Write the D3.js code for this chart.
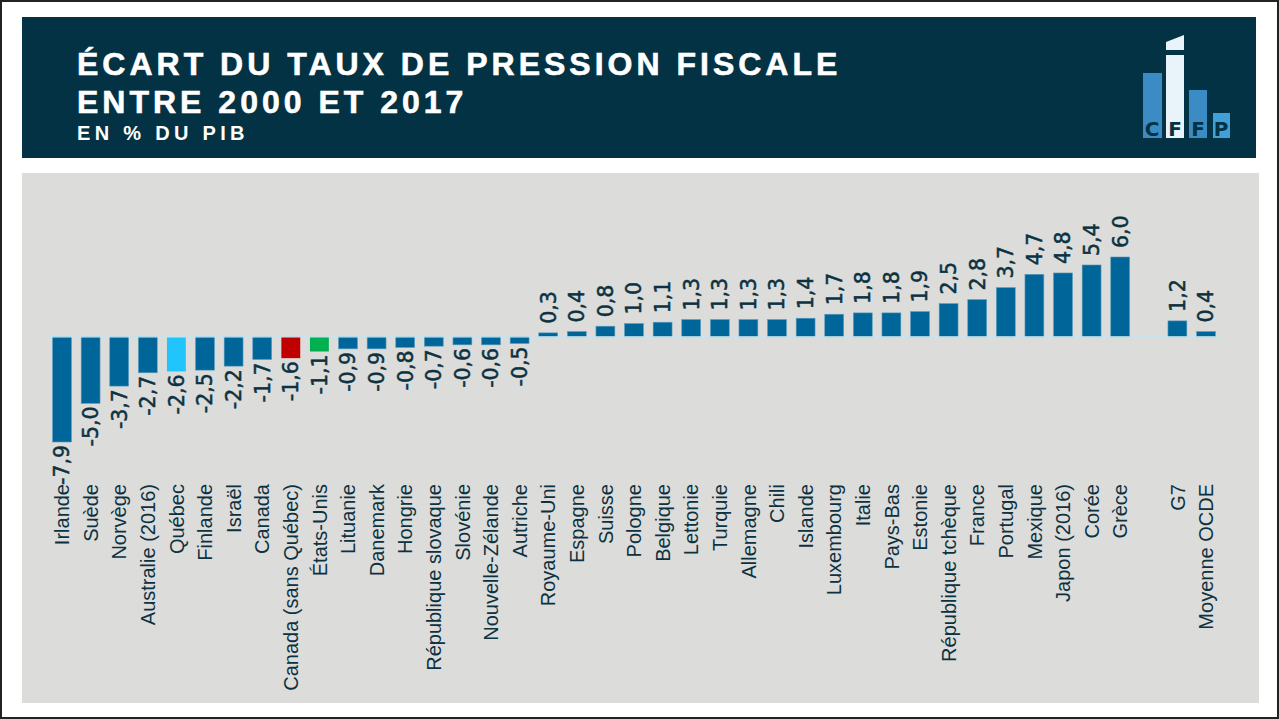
<!DOCTYPE html>
<html>
<head>
<meta charset="utf-8">
<script src="https://cdn.jsdelivr.net/npm/d3@7"></script>
<style>
    body { margin: 0; background: #fff; }
    svg { display: block; }
</style>
</head>
<body>
<div id="chart"></div>
<script>
// pays, dans l'ordre du graphique ("" = espace vide avant G7)
var countries = ["Irlande", "Suède", "Norvège", "Australie (2016)", "Québec", "Finlande", "Israël",
    "Canada", "Canada (sans Québec)", "États-Unis", "Lituanie", "Danemark", "Hongrie",
    "République slovaque", "Slovénie", "Nouvelle-Zélande", "Autriche", "Royaume-Uni", "Espagne",
    "Suisse", "Pologne", "Belgique", "Lettonie", "Turquie", "Allemagne", "Chili", "Islande",
    "Luxembourg", "Italie", "Pays-Bas", "Estonie", "République tchèque", "France", "Portugal",
    "Mexique", "Japon (2016)", "Corée", "Grèce", "", "G7", "Moyenne OCDE"];

// écart en points de % du PIB (null = pas de barre)
var values = [-7.9, -5.0, -3.7, -2.7, -2.6, -2.5, -2.2, -1.7, -1.6, -1.1, -0.9, -0.9, -0.8,
    -0.7, -0.6, -0.6, -0.5, 0.3, 0.4, 0.8, 1.0, 1.1, 1.3, 1.3, 1.3, 1.3, 1.4, 1.7, 1.8, 1.8,
    1.9, 2.5, 2.8, 3.7, 4.7, 4.8, 5.4, 6.0, null, 1.2, 0.4];

var highlight = {
    "Québec": "#22c5fb",
    "Canada (sans Québec)": "#c00000",
    "États-Unis": "#00b050"
};

var titleLines = ["ÉCART DU TAUX DE PRESSION FISCALE", "ENTRE 2000 ET 2017"];
var subtitle = "EN % DU PIB";

var width = 1279, height = 719;
var dark = "#023243", textCol = "#0c3242", barCol = "#006699";

var svg = d3.select("#chart").append("svg")
    .attr("width", width)
    .attr("height", height);

// cadre extérieur
svg.append("rect")
    .attr("x", 1).attr("y", 1)
    .attr("width", width - 2).attr("height", height - 2)
    .attr("fill", "#fff")
    .attr("stroke", "#222")
    .attr("stroke-width", 2);

// bandeau du titre
svg.append("rect")
    .attr("x", 22).attr("y", 17)
    .attr("width", 1234).attr("height", 141)
    .attr("fill", dark);

svg.selectAll(".title")
    .data(titleLines)
    .enter()
    .append("text")
    .attr("class", "title")
    .attr("x", 77)
    .attr("y", function (d, i) { return 75 + i * 38; })
    .style("font-family", "'Liberation Sans', Arial, sans-serif")
    .style("font-weight", "bold")
    .style("font-size", "32px")
    .style("letter-spacing", "4px")
    .attr("fill", "#fff")
    .attr("stroke", "#fff")
    .attr("stroke-width", 0.6)
    .text(function (d) { return d; });

svg.append("text")
    .attr("x", 77)
    .attr("y", 140)
    .style("font-family", "'Liberation Sans', Arial, sans-serif")
    .style("font-weight", "bold")
    .style("font-size", "20px")
    .style("letter-spacing", "4.3px")
    .attr("fill", "#fff")
    .text(subtitle);

// logo CFFP
var logo = svg.append("g");
logo.append("rect").attr("x", 1143).attr("y", 73).attr("width", 19).attr("height", 65).attr("fill", "#3b8cc4");
logo.append("rect").attr("x", 1166).attr("y", 55).attr("width", 18).attr("height", 83).attr("fill", "#e9f3fa");
logo.append("polygon").attr("points", "1166,42 1184,35 1184,50 1166,50").attr("fill", "#e9f3fa");
logo.append("rect").attr("x", 1189).attr("y", 90).attr("width", 18).attr("height", 48).attr("fill", "#3b8cc4");
logo.append("rect").attr("x", 1213).attr("y", 113).attr("width", 17).attr("height", 25).attr("fill", "#41a0d8");
logo.selectAll(".lettre")
    .data(["C", "F", "F", "P"])
    .enter()
    .append("text")
    .attr("class", "lettre")
    .attr("x", function (d, i) { return [1152, 1175, 1198, 1221][i]; })
    .attr("y", 136)
    .attr("text-anchor", "middle")
    .style("font-family", "'DejaVu Sans', sans-serif")
    .style("font-weight", "bold")
    .style("font-size", "20px")
    .attr("fill", dark)
    .text(function (d) { return d; });

// panneau du graphique
svg.append("rect")
    .attr("x", 22).attr("y", 173)
    .attr("width", 1237).attr("height", 530)
    .attr("fill", "#dcdcda");

var data = countries.map(function (c, i) {
    return {name: c, value: values[i], key: c === "" ? "_vide" : c};
});

var x = d3.scaleBand()
    .domain(data.map(function (d) { return d.key; }))
    .range([47.7, 1220.3])
    .paddingInner(0.34)
    .paddingOuter(0.17);

var y = d3.scaleLinear()
    .domain([-7.9, 6])
    .range([442, 257]);

var fmt = function (v) { return d3.format(".1f")(v).replace("−", "-").replace(".", ","); };

var g = svg.append("g");

var withBars = data.filter(function (d) { return d.value !== null; });

g.selectAll(".bar")
    .data(withBars)
    .enter()
    .append("rect")
    .attr("class", "bar")
    .attr("x", function (d) { return x(d.key); })
    .attr("width", x.bandwidth())
    .attr("y", function (d) { return y(Math.max(0, d.value)); })
    .attr("height", function (d) { return Math.abs(y(d.value) - y(0)); })
    .attr("fill", function (d) { return highlight[d.name] || barCol; })
    .attr("stroke", function (d) { return highlight[d.name] ? "none" : "#5b9cc0"; })
    .attr("stroke-width", 0.6);

// ligne du zéro
g.append("line")
    .attr("x1", x.range()[0]).attr("x2", x.range()[1])
    .attr("y1", y(0)).attr("y2", y(0))
    .attr("stroke", "#c3e6f2")
    .attr("stroke-width", 1.2);

// étiquettes de valeur
g.selectAll(".val")
    .data(withBars)
    .enter()
    .append("text")
    .attr("class", "val")
    .attr("transform", function (d) {
        var cx = x(d.key) + x.bandwidth() / 2;
        var yy = d.value >= 0 ? y(d.value) - 9 : y(d.value) + 3;
        return "translate(" + cx + "," + yy + ") rotate(-90)";
    })
    .attr("dy", "0.36em")
    .attr("text-anchor", function (d) { return d.value >= 0 ? "start" : "end"; })
    .style("font-family", "'DejaVu Sans', Verdana, sans-serif")
    .style("font-size", "20.5px")
    .attr("fill", textCol)
    .attr("stroke", textCol)
    .attr("stroke-width", 0.5)
    .text(function (d) { return fmt(d.value); });

// noms des pays
g.selectAll(".cat")
    .data(data.filter(function (d) { return d.name !== ""; }))
    .enter()
    .append("text")
    .attr("class", "cat")
    .attr("transform", function (d) {
        return "translate(" + (x(d.key) + x.bandwidth() / 2) + ",484) rotate(-90)";
    })
    .attr("dy", "0.36em")
    .attr("text-anchor", "end")
    .style("font-family", "'Liberation Sans', Arial, sans-serif")
    .style("font-size", "20px")
    .attr("fill", textCol)
    .text(function (d) { return d.name; });
</script>
</body>
</html>
